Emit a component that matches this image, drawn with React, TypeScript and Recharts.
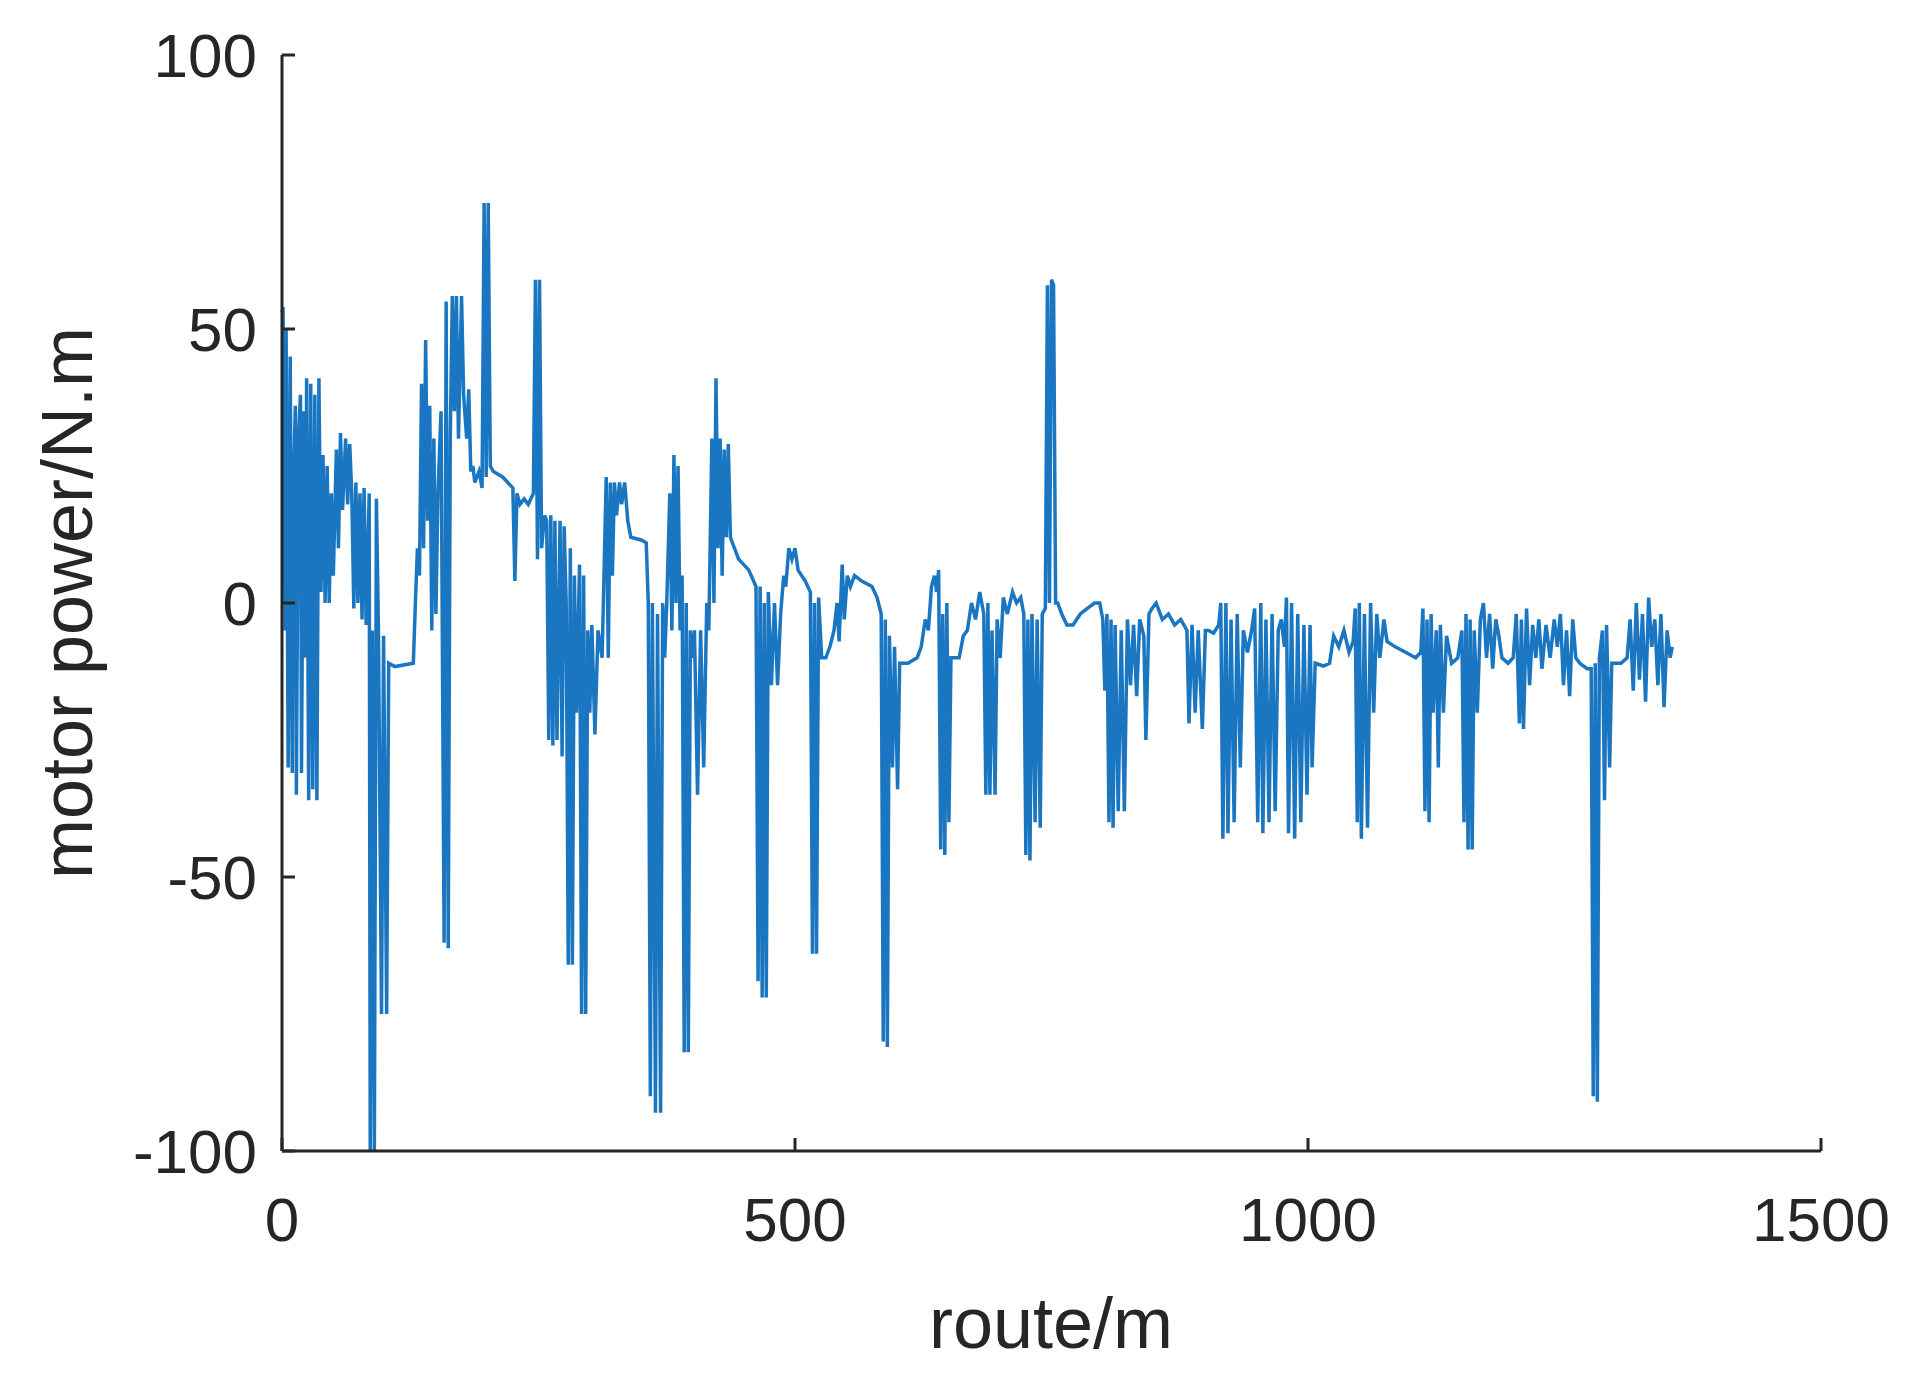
import { LineChart, Line, XAxis, YAxis, Label } from 'recharts';

// route (m) and motor power (N.m)
const routeM = [
  0, 1, 3, 4, 6, 8, 10, 11, 13, 14, 16, 18, 19, 21, 23, 24, 26, 28, 30, 32, 34, 36, 38, 40, 42, 44, 46, 48, 50,
  53, 55, 57, 59, 62, 64, 66, 68, 70, 72, 74, 76, 78, 80, 82, 85, 86, 88, 90, 92, 94, 97, 99, 102, 104, 110, 128,
  130, 132, 134, 136, 138, 140, 142, 144, 146, 148, 150, 152, 155, 158, 160, 162, 164, 166, 168, 170, 172, 175,
  177, 180, 182, 184, 186, 188, 192, 195, 197, 199, 201, 203, 206, 215, 225, 227, 229, 232, 236, 240, 245, 247,
  249, 251, 253, 256, 258, 260, 262, 264, 266, 268, 271, 273, 275, 277, 279, 281, 283, 285, 287, 290, 292, 294,
  296, 298, 300, 302, 305, 308, 312, 316, 318, 320, 322, 324, 326, 329, 331, 334, 337, 340, 350, 355, 357, 359,
  361, 364, 366, 369, 371, 373, 375, 378, 380, 382, 384, 386, 388, 390, 392, 394, 396, 398, 400, 402, 405, 408,
  411, 414, 416, 419, 421, 423, 425, 427, 429, 431, 433, 435, 437, 445, 455, 462, 464, 466, 468, 470, 472, 474,
  477, 480, 483, 486, 489, 491, 494, 497, 500, 503, 510, 515, 517, 519, 521, 523, 526, 530, 534, 538, 541, 543,
  546, 548, 551, 554, 558, 565, 575, 580, 584, 586, 588, 590, 592, 595, 597, 600, 602, 610, 619, 623, 627, 630,
  633, 636, 638, 640, 642, 644, 646, 648, 650, 652, 655, 660, 664, 668, 672, 676, 680, 684, 686, 688, 690, 692,
  695, 697, 700, 703, 707, 712, 716, 720, 723, 725, 727, 729, 731, 734, 736, 739, 741, 744, 746, 748, 750, 752,
  754, 756, 760, 765, 771, 778, 785, 792, 797, 800, 802, 804, 806, 808, 810, 812, 815, 818, 821, 824, 827, 830,
  833, 836, 840, 842, 845, 848, 852, 858, 864, 870, 876, 882, 884, 887, 890, 893, 897, 900, 903, 908, 913, 915,
  917, 920, 922, 925, 928, 931, 934, 937, 941, 945, 948, 951, 954, 956, 959, 962, 965, 968, 971, 974, 977, 979,
  981, 984, 987, 990, 993, 996, 999, 1002, 1004, 1007, 1015, 1021, 1025, 1030, 1035, 1040, 1044, 1046, 1048,
  1050, 1052, 1055, 1058, 1061, 1064, 1067, 1070, 1074, 1077, 1085, 1095, 1105, 1110, 1112, 1114, 1116, 1118,
  1120, 1122, 1125, 1127, 1129, 1132, 1135, 1140, 1146, 1150, 1152, 1154, 1156, 1158, 1160, 1162, 1165, 1168,
  1171, 1174, 1177, 1180, 1183, 1186, 1189, 1195, 1200, 1203, 1206, 1208, 1210, 1213, 1216, 1219, 1222, 1225,
  1228, 1232, 1236, 1240, 1243, 1246, 1249, 1252, 1255, 1258, 1261, 1265, 1272, 1276, 1278, 1280, 1282, 1284,
  1287, 1289, 1291, 1294, 1296, 1305, 1311, 1314, 1317, 1320, 1323, 1326, 1329, 1332, 1335, 1338, 1341, 1344,
  1347, 1350, 1353, 1355,
];

const motorPower = [
  53, 54, -5, 50, -30, 45, -31, 20, 36, -35, 30, 38, -31, 35, -10, 41, -36, 40, -34, 38, -36, 41, 2, 27, 0, 25, 0, 20, 5,
  28, 10, 31, 17, 30, 18, 29, 20, -1, 22, 0, 20, -3, 21, -4, 20, -100, -5, -100, 19, -5, -75, -6, -75, -11, -11.6, -11,
  0, 10, 5, 40, 10, 48, 15, 36, -5, 30, -2, 20, 35, -62, 55, -63, 30, 56, 35, 56, 30, 56,
  38, 30, 39, 24, 25, 22, 24, 21, 73, 23, 73, 25, 24, 23, 21, 4, 20, 18, 19, 18, 20, 59,
  8, 59, 10, 16, 15, -25, 16, -26, 15, -25, 15, -28, 14, 0, -66, 10, -66, 5, -20, 7, -75, 5,
  -75, -5, -20, -4, -24, -5, -10, 23, -10, 22, 5, 22, 16, 22, 18, 22, 15, 12, 11.5, 11, 0, -90,
  0, -93, -2, -93, 0, -10, 0, 20, -5, 27, 0, 25, -5, 5, -82, 0, -82, -5, -10, -5, -35, -5,
  -30, 0, -5, 30, 0, 41, 10, 30, 5, 28, 12, 29, 12, 8, 6, 3, -69, 3, -72, 0, -72, 2,
  -15, 0, -15, -2, 5, 3, 10, 8, 10, 6, 4, 2, -64, 0, -64, 1, -10, -10, -8, -5, 0, -7,
  7, -3, 5, 3, 5, 4, 3, 1, -2, -80, -3, -81, -6, -30, -8, -34, -11, -11, -10, -8, -3, -5,
  3, 5, 2, 6, -45, -2, -46, 0, -40, -10, -10, -10, -6, -5, 0, -3, 2, -2, -35, 0, -35, -5,
  -35, -3, -10, 1, -2, 2, 0, 1, -2, -46, -3, -47, -2, -40, -3, -41, -2, -1, 58, 0, 59, 58,
  0, 0, -2, -4, -4, -2, -1, 0, 0, -3, -16, -2, -40, -3, -41, -4, -38, -5, -38, -3, -15, -4,
  -17, -3, -6, -25, -2, -1, 0, -3, -2, -4, -3, -5, -22, -4, -20, -5, -23, -5, -5, -5.5, -4, 0,
  -43, 0, -42, -3, -40, -2, -30, -5, -9, -5, -1, -40, 0, -42, -3, -40, -2, -38, -5, -3, -8, 1,
  -42, 0, -43, -2, -40, -4, -35, -4, -30, -11, -11.5, -11, -6, -8, -5, -9, -7, -1, -40,
  0, -43, -2, -41, 0, -20, -2, -10, -3, -7, -8, -9, -10, -9, -1, -38, -3, -40,
  -2, -20, -5, -30, -4, -20, -6, -11, -10, -5, -40, -2, -45, -3, -45, -5, -20, -3,
  0, -10, -2, -12, -3, -6, -10, -11, -10, -2, -22, -3, -23, -1, -15, -4, -10, -3,
  -12, -4, -10, -3, -8, -2, -15, -5, -17, -3, -10, -11, -12, -12, -90, -11, -91, -10,
  -5, -36, -4, -30, -11, -11, -10, -3, -16, 0, -14, -2, -18, 1, -8, -3, -15, -2,
  -19, -5, -10, -8,
];

const xTicks = [0, 500, 1000, 1500];
const yTicks = [-100, -50, 0, 50, 100];

const data = routeM.map((x, i) => ({ x, y: motorPower[i] }));

const INK = '#262626';
const FONT = '"Liberation Sans", Arial, Helvetica, sans-serif';
const tickStyle = { fill: INK, fontSize: 62, fontFamily: FONT };

export default function App() {
  return (
    <div style={{ position: 'absolute', left: 0, top: 0, background: '#fff' }}>
      <LineChart width={1913} height={1397} data={data} margin={{ top: 55, right: 92, bottom: 146, left: 132 }}>
        <XAxis
          type="number"
          dataKey="x"
          domain={[0, 1500]}
          ticks={xTicks}
          interval={0}
          height={100}
          tickSize={-13}
          tickMargin={59}
          tick={tickStyle}
          axisLine={{ stroke: INK, strokeWidth: 3 }}
          tickLine={{ stroke: INK, strokeWidth: 3 }}
        >
          <Label
            content={() => (
              <text x={1051} y={1348} textAnchor="middle" fill={INK} fontSize={72} fontFamily={FONT}>
                route/m
              </text>
            )}
          />
        </XAxis>
        <YAxis
          type="number"
          domain={[-100, 100]}
          ticks={yTicks}
          interval={0}
          width={150}
          tickSize={-13}
          tickMargin={38}
          tick={tickStyle}
          axisLine={{ stroke: INK, strokeWidth: 3 }}
          tickLine={{ stroke: INK, strokeWidth: 3 }}
          allowDataOverflow
        >
          <Label
            content={() => (
              <text
                x={92}
                y={603}
                textAnchor="middle"
                fill={INK}
                fontSize={72}
                fontFamily={FONT}
                transform="rotate(-90 92 603)"
              >
                motor power/N.m
              </text>
            )}
          />
        </YAxis>
        <Line
          type="linear"
          dataKey="y"
          stroke="#1a76c0"
          strokeWidth={3.5}
          dot={false}
          isAnimationActive={false}
        />
      </LineChart>
    </div>
  );
}
